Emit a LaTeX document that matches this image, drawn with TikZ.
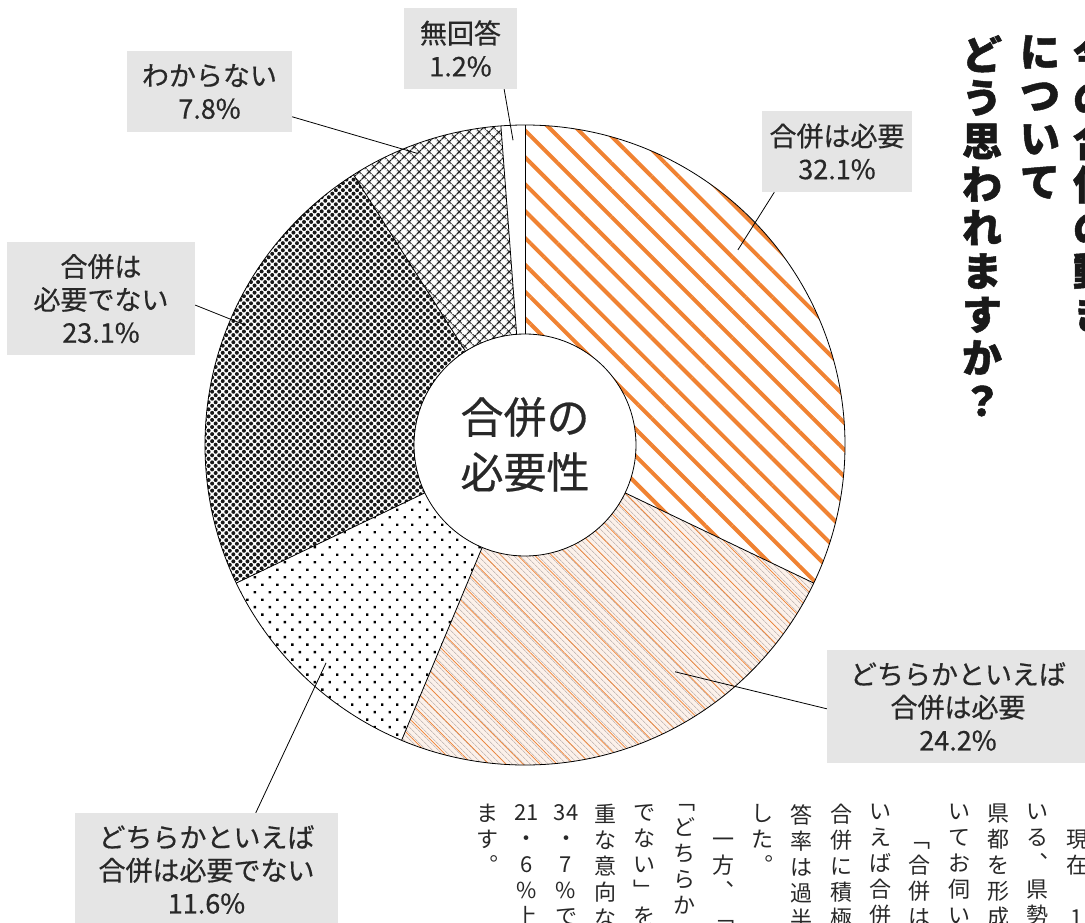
\documentclass[tikz,border=0pt]{standalone}
\usepackage{fontspec}
\setmainfont{Noto Sans CJK JP}
\newfontfamily\jpm{Noto Sans CJK JP}[FakeBold=0.5]
\newfontfamily\heavy{Noto Sans CJK JP}[BoldFeatures={FakeBold=1.2}]
\usetikzlibrary{patterns.meta}
\definecolor{orangeA}{RGB}{240,130,50}
\definecolor{peach}{RGB}{252,241,234}
\definecolor{linegray}{RGB}{170,160,160}
\definecolor{boxgray}{RGB}{229,229,229}
\definecolor{ink}{RGB}{40,40,40}
\newcommand\kara{\phantom{国}}
\tikzset{
   ring/.style={line width=0.8pt, black},
   leader/.style={line width=0.8pt, black},
   lbox/.style={fill=boxgray, inner sep=0pt, align=center, text=ink, font=\jpm\fontsize{27}{33}\selectfont},
   centre/.style={align=center, text=ink, font=\jpm\fontsize{43}{55}\selectfont},
   tatebody/.style={anchor=north, align=center, inner sep=0pt, text=ink, font=\fontsize{22}{26}\selectfont},
   tatehead/.style={anchor=north, align=center, inner sep=0pt, text=black!90, font=\heavy\bfseries\fontsize{40}{43.3}\selectfont},
   secA/.style={fill=white, postaction={pattern={Lines[angle=-45,distance=19pt,line width=4pt]}, pattern color=orangeA}},
   secB/.style={fill=peach, postaction={pattern={Lines[angle=-45,distance=4pt,line width=0.5pt]}, pattern color=linegray},
      postaction={pattern={Lines[angle=-45,distance=12pt,line width=0.7pt,yshift=2pt]}, pattern color=orangeA}},
   secC/.style={fill=white, postaction={pattern={Dots[angle=45,distance=10.6pt,radius=1.7pt]}, pattern color=black}},
   secD/.style={fill=white, postaction={pattern={Dots[angle=45,distance=5pt,radius=2pt]}, pattern color=black!90}},
   secE/.style={fill=white, postaction={pattern={Hatch[angle=45,distance=7.4pt,line width=1.5pt]}, pattern color=black!90}},
   secF/.style={fill=white}
}
\begin{document}
\begin{tikzpicture}[x=1pt,y=1pt]
   \def\R{320}
   \def\RR{111} % inner radius of the ring
   \useasboundingbox (-525,-477) rectangle (560,445);
   \clip (-525,-477) rectangle (560,445);
   \fill[white] (-525,-477) rectangle (560,445);
   \foreach \a/\b/\sty in {90/-25.56/secA, -25.56/-112.68/secB, -112.68/-154.44/secC,
         -154.44/-237.6/secD, -237.6/-265.68/secE, -265.68/-270/secF} {
      \path[\sty] (\a:\RR) -- (\a:\R) arc[start angle=\a, end angle=\b, radius=\R]
         -- (\b:\RR) arc[start angle=\b, end angle=\a, radius=\RR] -- cycle;
   }
   \draw[ring] (0,0) circle[radius=\R];
   \draw[ring] (0,0) circle[radius=\RR];
   \foreach \a in {90, -25.56, -112.68, -154.44, -237.6, -265.68} {
      \draw[ring] (\a:\RR) -- (\a:\R);
   }
   \node[centre] (ctr) at (0,0.5) {合併の\\必要性};
   \node[lbox, minimum width=150pt, minimum height=81pt] (lab1) at (312,293.5) {合併は必要\\32.1\%};
   \node[lbox, minimum width=262pt, minimum height=113pt] (lab2) at (433,-261.5) {どちらかといえば\\合併は必要\\24.2\%};
   \node[lbox, minimum width=263pt, minimum height=113pt] (lab3) at (-318.5,-424.5) {どちらかといえば\\合併は必要でない\\11.6\%};
   \node[lbox, minimum width=188pt, minimum height=113pt] (lab4) at (-424,146.5) {合併は\\必要でない\\23.1\%};
   \node[lbox, minimum width=165pt, minimum height=81pt] (lab5) at (-315.5,353.5) {わからない\\7.8\%};
   \node[lbox, minimum width=113pt, minimum height=81pt] (lab6) at (-64.5,396.5) {無回答\\1.2\%};
   \coordinate (pt1) at (42.5:288.8);
   \coordinate (pt2) at (-56.5:272);
   \coordinate (pt3) at (227.6:295);
   \coordinate (pt4) at (156.8:304.6);
   \coordinate (pt5) at (110.3:311);
   \coordinate (pt6) at (92.25:305);
   \draw[leader] (lab1.213) -- (pt1);
   \draw[leader] (lab2.181) -- (pt2);
   \draw[leader] (lab3.49.4) -- (pt3);
   \draw[leader] (lab4.-4) -- (pt4);
   \draw[leader] (lab5.-17.2) -- (pt5);
   \draw[leader] (lab6.-43) -- (pt6);
   \foreach \x/\t [count=\i] in {568/今\\の\\合\\併\\の\\動\\き, 515/に\\つ\\い\\て,
         457/ど\\う\\思\\わ\\れ\\ま\\す\\か\\？} {
      \node[tatehead] (head\i) at (\x,410) {\t};
   }
   \foreach \t [count=\i from 0] in {\kara\\現\\在\\\kara\\1, い\\る\\︑\\県\\勢, 県\\都\\を\\形\\成,
         い\\て\\お\\伺\\い, \kara\\﹁\\合\\併\\は, い\\え\\ば\\合\\併, 合\\併\\に\\積\\極,
         答\\率\\は\\過\\半, し\\た\\︒, \kara\\一\\方\\︑\\﹁, ﹁\\ど\\ち\\ら\\か,
         で\\な\\い\\﹂\\を, 重\\な\\意\\向\\な, 34\\・\\7\\\%\\で, 21\\・\\6\\\%\\上, ま\\す\\︒} {
      \node[tatebody] (body\i) at ({552-39.3*\i},-359) {\t};
   }
\end{tikzpicture}
\end{document}
